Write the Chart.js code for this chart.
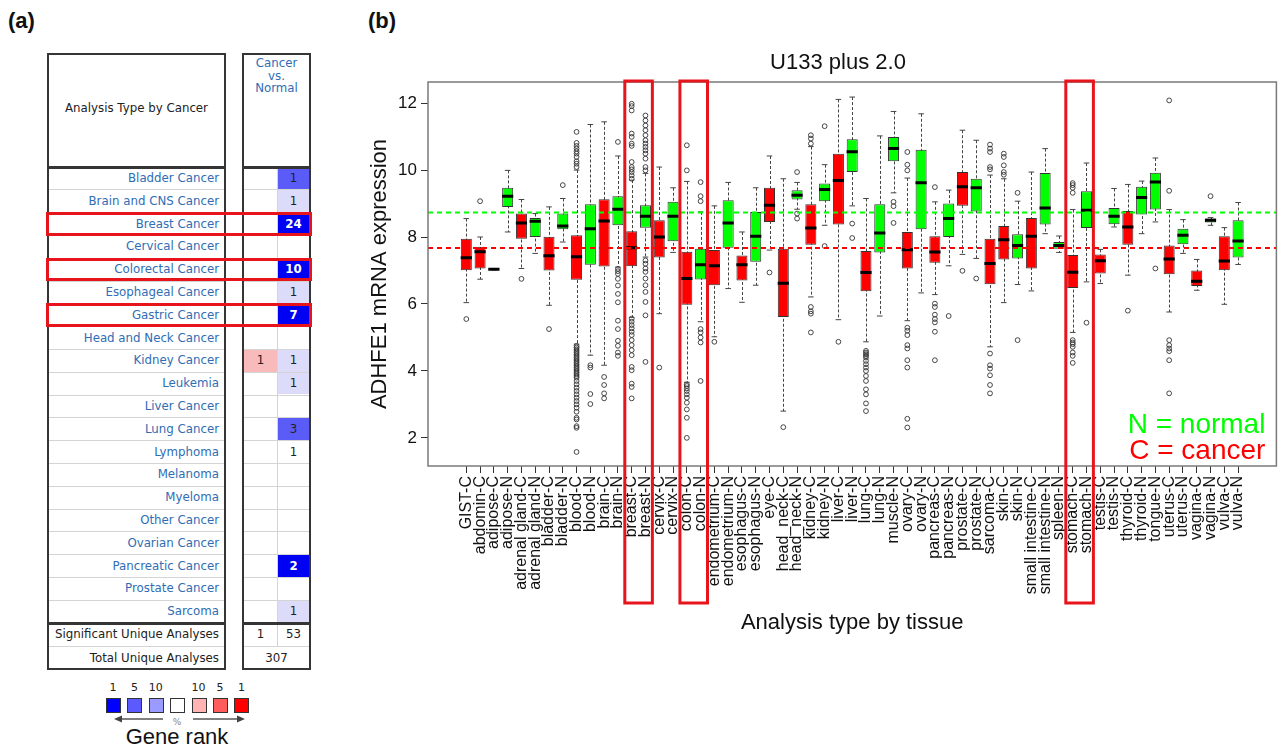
<!DOCTYPE html>
<html>
<head>
<meta charset="utf-8">
<title>ADHFE1 expression</title>
<script src="https://cdn.jsdelivr.net/npm/chart.js@4.4.1/dist/chart.umd.min.js"></script>
<style>
  body { margin: 0; background: #fff; width: 1285px; height: 750px; position: relative; overflow: hidden;
         font-family: "Liberation Sans", Arial, sans-serif; }
  .abs { position: absolute; box-sizing: border-box; }
  .tag { position: absolute; font-weight: bold; font-size: 22px; color: #111; }
  .tbl { font-family: "DejaVu Sans", sans-serif; font-size: 11.8px; white-space: nowrap; }
  #chartWrap { position: absolute; left: 355px; top: 40px; width: 930px; height: 600px; }
</style>
</head>
<body>
<div class="tag" style="left:8px;top:8px;">(a)</div>
<div class="tag" style="left:368px;top:8px;">(b)</div>
<div id="panelA"></div>
<div id="chartWrap"><canvas id="boxChart" width="930" height="600"></canvas></div>

<script>
/* ---------- panel (a): Oncomine summary table ---------- */
const cancerTypes = ['Bladder Cancer', 'Brain and CNS Cancer', 'Breast Cancer', 'Cervical Cancer', 'Colorectal Cancer',
  'Esophageal Cancer', 'Gastric Cancer', 'Head and Neck Cancer', 'Kidney Cancer', 'Leukemia', 'Liver Cancer',
  'Lung Cancer', 'Lymphoma', 'Melanoma', 'Myeloma', 'Other Cancer', 'Ovarian Cancer', 'Pancreatic Cancer',
  'Prostate Cancer', 'Sarcoma'];
const upCounts   = [null, null, null, null, null, null, null, null, 1, null, null, null, null, null, null, null, null, null, null, null];
const upShade    = [0, 0, 0, 0, 0, 0, 0, 0, 1, 0, 0, 0, 0, 0, 0, 0, 0, 0, 0, 0];
const downCounts = [1, 1, 24, null, 10, 1, 7, null, 1, 1, null, 3, 1, null, null, null, null, 2, null, 1];
const downShade  = [2, 1, 3, 0, 3, 1, 3, 0, 1, 1, 0, 2, 0, 0, 0, 0, 0, 3, 0, 1];
const highlightRows = [2, 4, 6];
const sigUp = 1, sigDown = 53, totalAnalyses = 307;
const rankLabels = ['1', '5', '10', '', '10', '5', '1'];
const rankColors = ['#0000ff', '#5a5aff', '#9b9bff', '#ffffff', '#ffb3b3', '#ff5c5c', '#ff0000'];

const blueShades = ['#ffffff', '#dcdcfa', '#5b5bf8', '#0000f2'];
const redShades = ['#ffffff', '#f8baba', '#ff5c5c', '#ff0000'];
const linkBlue = '#2f6db4';

const panelA = document.getElementById('panelA');
function rect(x, y, w, h, css) {
  const d = document.createElement('div');
  d.className = 'abs';
  Object.assign(d.style, { left: x + 'px', top: y + 'px', width: w + 'px', height: h + 'px' }, css || {});
  panelA.appendChild(d);
  return d;
}
function label(x, y, w, h, str, css) {
  const d = rect(x, y, w, h, Object.assign({ lineHeight: h + 'px', textAlign: 'center', color: '#222' }, css || {}));
  d.classList.add('tbl');
  d.textContent = str;
  return d;
}

const rowTop = 167, rowH = 22.8, sumH = 23.5;
const sumTop = rowTop + cancerTypes.length * rowH;
const tableBottom = sumTop + 2 * sumH;

// row separators
cancerTypes.forEach((c, i) => {
  const y = rowTop + (i + 1) * rowH;
  if (i < cancerTypes.length - 1) {
    rect(49, y - 0.5, 175, 1, { background: '#d4d4d4' });
    rect(244, y - 0.5, 65, 1, { background: '#d4d4d4' });
  }
});
rect(49, sumTop + sumH - 0.5, 175, 1, { background: '#d4d4d4' });
rect(244, sumTop + sumH - 0.5, 65, 1, { background: '#d4d4d4' });
rect(277, rowTop, 1, sumTop + sumH - rowTop, { background: '#d4d4d4' });

// cells
cancerTypes.forEach((c, i) => {
  const y = rowTop + i * rowH;
  label(47, y, 172, rowH, c, { textAlign: 'right', color: linkBlue });
  if (upCounts[i] !== null) {
    rect(244, y + 0.5, 33, rowH - 1, { background: redShades[upShade[i]] });
    label(244, y, 33, rowH, String(upCounts[i]), { color: upShade[i] === 3 ? '#fff' : '#222' });
  }
  if (downCounts[i] !== null) {
    rect(278, y + 0.5, 31, rowH - 1, { background: blueShades[downShade[i]] });
    label(278, y, 31, rowH, String(downCounts[i]),
      { color: downShade[i] === 3 ? '#fff' : '#222', fontWeight: downShade[i] === 3 ? 'bold' : 'normal' });
  }
});
label(47, sumTop, 172, sumH, 'Significant Unique Analyses', { textAlign: 'right' });
label(244, sumTop, 33, sumH, String(sigUp));
label(278, sumTop, 31, sumH, String(sigDown));
label(47, sumTop + sumH, 172, sumH, 'Total Unique Analyses', { textAlign: 'right' });
label(244, sumTop + sumH, 65, sumH, String(totalAnalyses));

// headers
label(47, 100, 179, 16, 'Analysis Type by Cancer');
label(242, 57, 69, 13, 'Cancer', { color: linkBlue });
label(242, 70, 69, 13, 'vs.', { color: linkBlue });
label(242, 82, 69, 13, 'Normal', { color: linkBlue });

// frames
rect(47, 53, 179, tableBottom - 53, { border: '2px solid #353535' });
rect(242, 53, 69, tableBottom - 53, { border: '2px solid #353535' });
rect(47, rowTop - 1.5, 179, 3, { background: '#353535' });
rect(242, rowTop - 1.5, 69, 3, { background: '#353535' });
rect(47, sumTop - 1, 179, 2.5, { background: '#353535' });
rect(242, sumTop - 1, 69, 2.5, { background: '#353535' });

// red highlight boxes
highlightRows.forEach(i => {
  rect(46, rowTop + i * rowH - 0.5, 266, rowH + 1, { border: '3px solid #e8141b' });
});

// gene rank legend
rankColors.forEach((c, i) => {
  const x = 106 + i * 21.4;
  if (rankLabels[i]) label(x - 6, 681, 26, 14, rankLabels[i], { fontSize: '11px' });
  rect(x, 698, 15, 15, { background: c, border: '1.5px solid #333' });
});
const arrows = document.createElementNS('http://www.w3.org/2000/svg', 'svg');
arrows.setAttribute('width', '160');
arrows.setAttribute('height', '14');
arrows.style.cssText = 'position:absolute;left:100px;top:712px;';
arrows.innerHTML =
  '<line x1="20" y1="7" x2="63" y2="7" stroke="#555" stroke-width="1.5"/>' +
  '<polygon points="14,7 22,3.5 22,10.5" fill="#444"/>' +
  '<line x1="93" y1="7" x2="138" y2="7" stroke="#555" stroke-width="1.5"/>' +
  '<polygon points="145,7 137,3.5 137,10.5" fill="#444"/>' +
  '<text x="77" y="13" font-size="9" fill="#888" text-anchor="middle" font-family="DejaVu Sans">%</text>';
panelA.appendChild(arrows);
const gr = rect(97, 724, 160, 26, { fontSize: '22px', lineHeight: '26px', textAlign: 'center', color: '#111' });
gr.textContent = 'Gene rank';

/* ---------- panel (b): box plot U133 plus 2.0 ---------- */
const tissues = ['GIST-C', 'abdomin-C', 'adipose-C', 'adipose-N', 'adrenal gland-C', 'adrenal gland-N', 'bladder-C',
  'bladder-N', 'blood-C', 'blood-N', 'brain-C', 'brain-N', 'breast-C', 'breast-N', 'cervix-C', 'cervix-N', 'colon-C',
  'colon-N', 'endometrium-C', 'endometrium-N', 'esophagus-C', 'esophagus-N', 'eye-C', 'head_neck-C', 'head_neck-N',
  'kidney-C', 'kidney-N', 'liver-C', 'liver-N', 'lung-C', 'lung-N', 'muscle-N', 'ovary-C', 'ovary-N', 'pancreas-C',
  'pancreas-N', 'prostate-C', 'prostate-N', 'sarcoma-C', 'skin-C', 'skin-N', 'small intestine-C', 'small intestine-N',
  'spleen-N', 'stomach-C', 'stomach-N', 'testis-C', 'testis-N', 'thyroid-C', 'thyroid-N', 'tongue-N', 'uterus-C',
  'uterus-N', 'vagina-C', 'vagina-N', 'vulva-C', 'vulva-N'];

const whiskLo = [6.04, 6.74, 7.02, 8.15, 7.06, 7.51, 5.96, 7.85, 4.8, 4.47,
  4.17, 7.1, 5.6, 7.4, 5.71, 7.54, 3.66, 5.47, 5.02, 6.46,
  6.05, 6.56, 7.61, 2.80, 8.83, 6.21, 8.35, 5.53, 8.93, 4.87,
  5.64, 9.32, 5.50, 6.33, 6.28, 7.14, 7.48, 7.36, 4.72, 6.04,
  6.58, 6.39, 8.10, 7.54, 5.15, 6.66, 6.61, 8.30, 6.86, 8.10,
  8.45, 5.76, 7.51, 6.41, 8.35, 5.99, 7.18];
const q1 = [7.01, 7.06, 7.02, 8.90, 7.95, 8.00, 7.00, 8.23, 6.72, 7.17,
  7.12, 8.35, 7.13, 8.28, 7.39, 7.87, 5.98, 6.73, 6.56, 7.68,
  6.70, 7.26, 8.45, 5.61, 9.12, 7.77, 9.07, 8.37, 9.94, 6.38,
  7.54, 10.26, 7.06, 8.23, 7.23, 8.00, 8.93, 8.76, 6.59, 7.33,
  7.36, 7.06, 8.37, 7.65, 6.48, 8.27, 6.91, 8.38, 7.77, 8.67,
  8.82, 6.89, 7.78, 6.54, 8.43, 7.01, 7.39];
const median = [7.38, 7.56, 7.04, 9.22, 8.42, 8.47, 7.44, 8.33, 7.41, 8.25,
  8.48, 8.83, 7.68, 8.62, 8.00, 8.62, 6.76, 7.17, 7.14, 8.42,
  7.17, 8.02, 8.95, 6.62, 9.25, 8.27, 9.42, 9.69, 10.55, 6.94,
  8.12, 10.64, 7.62, 9.62, 7.55, 8.55, 9.50, 9.47, 7.21, 7.92,
  7.75, 8.02, 8.87, 7.75, 6.95, 8.80, 7.29, 8.62, 8.30, 9.18,
  9.64, 7.34, 8.05, 6.68, 8.50, 7.28, 7.88];
const q3 = [7.95, 7.71, 7.06, 9.47, 8.70, 8.57, 8.01, 8.70, 8.05, 8.98,
  9.13, 9.22, 8.17, 8.95, 8.50, 9.05, 7.56, 7.65, 7.61, 9.10,
  7.45, 8.75, 9.47, 7.65, 9.40, 8.98, 9.60, 10.49, 10.92, 7.58,
  8.98, 10.99, 8.15, 10.61, 8.02, 9.00, 9.94, 9.74, 7.95, 8.33,
  8.08, 8.57, 9.91, 7.85, 7.46, 9.37, 7.48, 8.87, 8.78, 9.50,
  9.92, 7.75, 8.25, 7.00, 8.55, 8.02, 8.50];
const whiskHi = [8.55, 8.00, 7.06, 9.99, 9.12, 8.70, 8.90, 9.15, 10.0, 11.36,
  11.44, 10.42, 9.7, 9.9, 10.09, 9.47, 9.66, 8.75, 8.93, 9.63,
  8.15, 9.47, 10.42, 9.74, 9.63, 10.7, 10.16, 12.11, 12.18, 9.15,
  11.02, 11.75, 9.76, 11.68, 9.05, 9.40, 11.19, 10.89, 9.85, 9.74,
  9.07, 9.94, 10.64, 8.03, 8.82, 10.21, 7.63, 9.45, 9.57, 9.67,
  10.36, 8.82, 8.52, 7.33, 8.58, 8.28, 9.03];
const outliers = [
  [5.55], [9.07], [], [], [6.75], [], [5.25], [9.55],
  [11.14, 10.81, 10.72, 10.64, 10.56, 10.49, 10.39, 10.26, 10.19, 10.09, 4.75, 4.7, 4.65, 4.6, 4.55, 4.5, 4.45, 4.4,
   4.35, 4.3, 4.25, 4.2, 4.15, 4.1, 4.05, 4.0, 3.95, 3.9, 3.85, 3.8, 3.7, 3.6, 3.5, 3.4, 3.3, 3.2, 3.1, 3.0, 2.9,
   2.78, 2.6, 2.55, 2.35, 2.3, 1.58],
  [4.17, 4.1, 3.31, 3.01],
  [3.82, 3.58, 3.33, 3.18],
  [10.84, 7.05, 6.98, 6.9, 6.75, 6.55, 6.3, 6.05, 5.5, 5.25, 4.9, 4.75, 4.55, 4.45],
  [11.98, 11.91, 11.78, 11.09, 10.99, 10.79, 10.72, 10.24, 10.09, 10.02, 9.94, 9.84, 9.74, 5.56, 5.47, 5.37, 5.27,
   5.17, 5.07, 4.92, 4.77, 4.62, 4.47, 4.12, 4.02, 3.62, 3.52, 3.18],
  [11.63, 11.48, 11.33, 11.19, 11.04, 10.89, 10.79, 10.69, 10.59, 10.49, 10.34, 10.09, 9.99, 7.3, 7.2, 7.06, 6.96,
   6.76, 6.56, 6.36, 6.06, 5.66, 4.27],
  [4.1], [],
  [10.74, 9.99, 3.6, 3.55, 3.48, 3.4, 3.3, 3.2, 3.05, 2.85, 2.6, 2.0],
  [9.64, 9.22, 9.07, 5.25, 5.15, 5.0, 4.85, 3.7],
  [4.87], [], [], [], [6.94], [2.32], [9.94, 8.7, 8.55],
  [11.04, 10.94, 10.79, 5.91, 5.78, 5.71, 5.15],
  [11.31, 7.73], [4.87], [8.40, 7.97],
  [4.6, 4.55, 4.5, 4.45, 4.4, 4.3, 4.2, 4.1, 4.0, 3.85, 3.7, 3.45, 3.3, 3.03, 2.8],
  [], [9.05, 8.92, 8.42],
  [10.54, 10.16, 9.99, 5.29, 5.2, 5.07, 4.77, 4.67, 4.32, 4.1, 2.57, 2.31],
  [], [9.49, 6.01, 5.91, 5.68, 5.55, 5.45, 5.17, 4.32], [5.64], [6.99], [6.76],
  [10.76, 10.64, 10.54, 10.09, 10.02, 4.52, 4.17, 4.07, 3.87, 3.58, 3.33],
  [10.49, 10.39, 10.14, 9.94, 9.86],
  [9.32, 4.92], [], [], [],
  [9.61, 9.55, 9.47, 9.32, 4.92, 4.85, 4.8, 4.72, 4.55, 4.45, 4.24],
  [5.44], [], [], [5.80], [], [7.06],
  [12.08, 9.38, 4.92, 4.77, 4.67, 4.59, 4.32, 3.33],
  [], [], [9.22], [], []
];
const normalMean = 8.73;
const cancerMean = 7.67;
const highlightPairs = [[12, 13], [16, 17], [44, 45]];
const yTicks = [2, 4, 6, 8, 10, 12];
const chartTitle = 'U133 plus 2.0';

const RED = '#ff0000', GREEN = '#00ff00';
const isCancer = t => t.endsWith('-C');

Chart.defaults.font.family = '"Liberation Sans", Arial, sans-serif';

// dashed whiskers behind the boxes
const whiskerPlugin = {
  id: 'whiskers',
  beforeDatasetsDraw(chart) {
    const { ctx, scales: { x, y } } = chart;
    ctx.save();
    ctx.strokeStyle = '#444';
    ctx.lineWidth = 1;
    ctx.setLineDash([3, 2]);
    tissues.forEach((t, i) => {
      const px = Math.round(x.getPixelForValue(i)) + 0.5;
      ctx.beginPath();
      ctx.moveTo(px, y.getPixelForValue(whiskHi[i]));
      ctx.lineTo(px, y.getPixelForValue(whiskLo[i]));
      ctx.stroke();
    });
    ctx.restore();
  }
};

// mean lines, frame, highlights, title and key
const decorPlugin = {
  id: 'decor',
  afterDatasetsDraw(chart) {
    const { ctx, chartArea: a, scales: { y } } = chart;
    ctx.save();
    ctx.lineWidth = 2;
    ctx.setLineDash([5, 4]);
    [[normalMean, GREEN], [cancerMean, RED]].forEach(([v, c]) => {
      const py = y.getPixelForValue(v);
      ctx.strokeStyle = c;
      ctx.beginPath();
      ctx.moveTo(a.left, py);
      ctx.lineTo(a.right, py);
      ctx.stroke();
    });
    ctx.restore();
  },
  afterDraw(chart) {
    const { ctx, chartArea: a, scales: { x } } = chart;
    ctx.save();
    ctx.strokeStyle = '#7a7a7a';
    ctx.lineWidth = 1.5;
    ctx.strokeRect(a.left, a.top, a.right - a.left, a.bottom - a.top);

    ctx.strokeStyle = '#e8141b';
    ctx.lineWidth = 3;
    highlightPairs.forEach(([i0, i1]) => {
      const l = x.getPixelForValue(i0 - 0.5), r = x.getPixelForValue(i1 + 0.5);
      ctx.strokeRect(l, a.top - 1, r - l, 522);
    });

    ctx.fillStyle = '#111';
    ctx.font = '22px "Liberation Sans", Arial, sans-serif';
    ctx.textAlign = 'center';
    ctx.textBaseline = 'middle';
    ctx.fillText(chartTitle, 483, 23);

    ctx.font = '28px "Liberation Sans", Arial, sans-serif';
    ctx.textAlign = 'right';
    ctx.textBaseline = 'alphabetic';
    ctx.fillStyle = GREEN;
    ctx.fillText('N = normal', a.right - 11, 393);
    ctx.fillStyle = RED;
    ctx.fillText('C = cancer', a.right - 11, 419);
    ctx.restore();
  }
};

new Chart(document.getElementById('boxChart'), {
  type: 'bar',
  data: {
    datasets: [
      {
        type: 'line', label: 'median', order: 1, showLine: false,
        data: tissues.map((t, i) => ({ x: i, y: median[i] })),
        pointStyle: 'line', pointRadius: 5.6, pointHoverRadius: 5.6,
        pointBorderWidth: 3, pointHoverBorderWidth: 3, borderColor: '#000'
      },
      {
        type: 'line', label: 'caps', order: 1, showLine: false,
        data: tissues.flatMap((t, i) => [{ x: i, y: whiskLo[i] }, { x: i, y: whiskHi[i] }]),
        pointStyle: 'line', pointRadius: 2.8, pointHoverRadius: 2.8,
        pointBorderWidth: 1, borderColor: '#444'
      },
      {
        type: 'line', label: 'outliers', order: 1, showLine: false,
        data: tissues.flatMap((t, i) => outliers[i].map(v => ({ x: i, y: v }))),
        pointStyle: 'circle', pointRadius: 2.4, pointHoverRadius: 2.4,
        pointBorderWidth: 0.9, borderColor: '#333', pointBackgroundColor: 'rgba(0,0,0,0)'
      },
      {
        label: 'box', order: 2,
        data: tissues.map((t, i) => ({ x: i, y: [q1[i], q3[i]] })),
        backgroundColor: tissues.map(t => isCancer(t) ? RED : GREEN),
        borderColor: '#333', borderWidth: 1, borderSkipped: false,
        barPercentage: 0.8, categoryPercentage: 1.0
      }
    ]
  },
  options: {
    responsive: false,
    animation: false,
    events: [],
    layout: { padding: { top: 42, left: 8, right: 2, bottom: 0 } },
    plugins: { legend: { display: false }, tooltip: { enabled: false }, title: { display: false } },
    scales: {
      x: {
        type: 'linear', offset: false, min: -2.78, max: 58.78,
        afterBuildTicks: s => { s.ticks = tissues.map((t, i) => ({ value: i })); },
        afterFit: s => { s.height = 174; },
        ticks: {
          autoSkip: false, minRotation: 90, maxRotation: 90, padding: 3,
          color: '#111', font: { size: 16 },
          callback: v => tissues[v]
        },
        grid: { offset: false, drawOnChartArea: false, drawTicks: true, tickLength: 7, color: '#333' },
        border: { display: false },
        title: { display: true, text: 'Analysis type by tissue', color: '#111', font: { size: 22 }, padding: { top: 4, bottom: 4 } }
      },
      y: {
        type: 'linear', min: 1.16, max: 12.63,
        afterBuildTicks: s => { s.ticks = yTicks.map(v => ({ value: v })); },
        afterFit: s => { s.width = 65; },
        ticks: { color: '#111', font: { size: 17 }, padding: 4 },
        grid: { drawOnChartArea: false, drawTicks: true, tickLength: 7, color: '#333' },
        border: { display: false },
        title: { display: true, text: 'ADHFE1 mRNA expression', color: '#111', font: { size: 22 }, padding: { top: 4, bottom: 0 } }
      }
    }
  },
  plugins: [whiskerPlugin, decorPlugin]
});
</script>
</body>
</html>
